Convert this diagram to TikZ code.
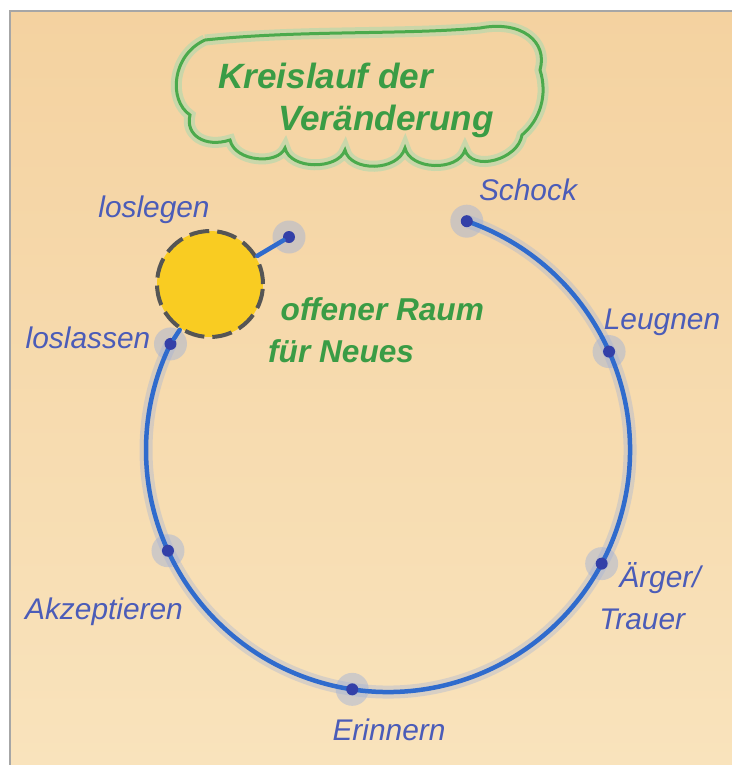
\documentclass[tikz,border=0pt]{standalone}
\usepackage{fontspec}
\setmainfont{Liberation Sans}
\usetikzlibrary{backgrounds}

\definecolor{paperA}{HTML}{F4D2A0}
\definecolor{paperB}{HTML}{F9E3BC}
\definecolor{labelblue}{HTML}{4B5CB8}
\definecolor{lineblue}{HTML}{2F6BCD}
\definecolor{dotblue}{HTML}{3340A8}
\definecolor{haloblue}{HTML}{9DB0DA}
\definecolor{markgreen}{HTML}{3A9C45}
\definecolor{cloudgreen}{HTML}{4BAA4C}
\definecolor{sunyellow}{HTML}{F9CC22}
\definecolor{sunrim}{HTML}{555555}

\begin{document}
\begin{tikzpicture}[x=0.02cm,y=-0.02cm,
    stage/.style={circle,fill=dotblue,inner sep=0pt,minimum size=0.24cm},
    halo/.style={circle,fill=haloblue,opacity=.45,inner sep=0pt,minimum size=0.66cm},
    lab/.style={text=labelblue,font=\fontsize{17}{24}\selectfont\itshape},
    note/.style={text=markgreen,font=\fontsize{18}{24}\selectfont\itshape\bfseries},
    arcline/.style={draw=lineblue,line width=0.09cm,line cap=round}]
  \useasboundingbox (0,0) rectangle (732,765);

  % the stages on the circle
  \coordinate (c) at (388,450);
  \node[stage] (schock)   at ([shift={(-71:242)}]c) {};
  \node[stage] (leugnen)  at ([shift={(-24:242)}]c) {};
  \node[stage] (aerger)   at ([shift={(28:242)}]c) {};
  \node[stage] (erinnern) at ([shift={(98.5:242)}]c) {};
  \node[stage] (akzept)   at ([shift={(155.4:242)}]c) {};
  \node[stage] (lassen)   at ([shift={(206:242)}]c) {};
  \node[stage] (legen)    at (289,237) {};

  % open space
  \node[circle,fill=sunyellow,draw=sunrim,line width=0.08cm,
        dash pattern=on 0.4cm off 0.16cm,minimum size=2.12cm] (sun) at (210,284) {};
  \draw[arcline] (sun) -- (legen);
  \draw[arcline] (sun) -- (lassen);

  \node[lab] (tschock)   at (528,190) {Schock};
  \node[lab] (tleugnen)  at (662,322) {Leugnen};
  \node[lab,align=left] (taerger) at (650,596) {\hspace*{0.4cm}Ärger/\\Trauer};
  \node[lab] (terinnern) at (389,730) {Erinnern};
  \node[lab] (takzept)   at (104,612) {Akzeptieren};
  \node[lab] (tlassen)   at (88,338) {loslassen};
  \node[lab] (tlegen)    at (154,210) {loslegen};
  \node[note,align=left,anchor=west] (raum) at (262,330) {\hspace*{0.25cm}offener Raum\\für Neues};

  % title cloud
  \draw[cloudgreen!45,line width=0.22cm,opacity=.6]
    (205,40) .. controls (300,30) and (400,35) .. (480,28)
    .. controls (522,20) and (548,42) .. (540,70)
    .. controls (548,95) and (540,120) .. (522,135)
    .. controls (518,160) and (472,172) .. (465,150)
    .. controls (458,172) and (410,170) .. (405,148)
    .. controls (398,172) and (350,172) .. (345,150)
    .. controls (338,170) and (290,170) .. (285,148)
    .. controls (278,165) and (235,162) .. (230,140)
    .. controls (205,148) and (185,135) .. (190,115)
    .. controls (168,100) and (172,55) .. (205,40);
  \draw[cloudgreen,line width=0.06cm]
    (205,40) .. controls (300,30) and (400,35) .. (480,28)
    .. controls (522,20) and (548,42) .. (540,70)
    .. controls (548,95) and (540,120) .. (522,135)
    .. controls (518,160) and (472,172) .. (465,150)
    .. controls (458,172) and (410,170) .. (405,148)
    .. controls (398,172) and (350,172) .. (345,150)
    .. controls (338,170) and (290,170) .. (285,148)
    .. controls (278,165) and (235,162) .. (230,140)
    .. controls (205,148) and (185,135) .. (190,115)
    .. controls (168,100) and (172,55) .. (205,40);
  \node[note,font=\fontsize{20}{24}\selectfont\itshape\bfseries,align=left,anchor=west]
    (title) at (212,100) {Kreislauf der\\\hspace*{1.2cm}Veränderung};

  \begin{scope}[on background layer]
    \fill[white] (0,0) rectangle (732,765);
    \shade[top color=paperA,bottom color=paperB] (10,11) rectangle (732,765);
    \draw[gray!70,line width=0.04cm] (10,765) -- (10,11) -- (732,11);
    \draw[haloblue,opacity=.35,line width=0.26cm]
      (schock.center) arc[start angle=-71,end angle=206,radius=242];
    \foreach \n in {schock,leugnen,aerger,erinnern,akzept,lassen,legen}
      \node[halo] at (\n) {};
    \draw[arcline] (schock.center) arc[start angle=-71,end angle=206,radius=242];
  \end{scope}
\end{tikzpicture}
\end{document}
